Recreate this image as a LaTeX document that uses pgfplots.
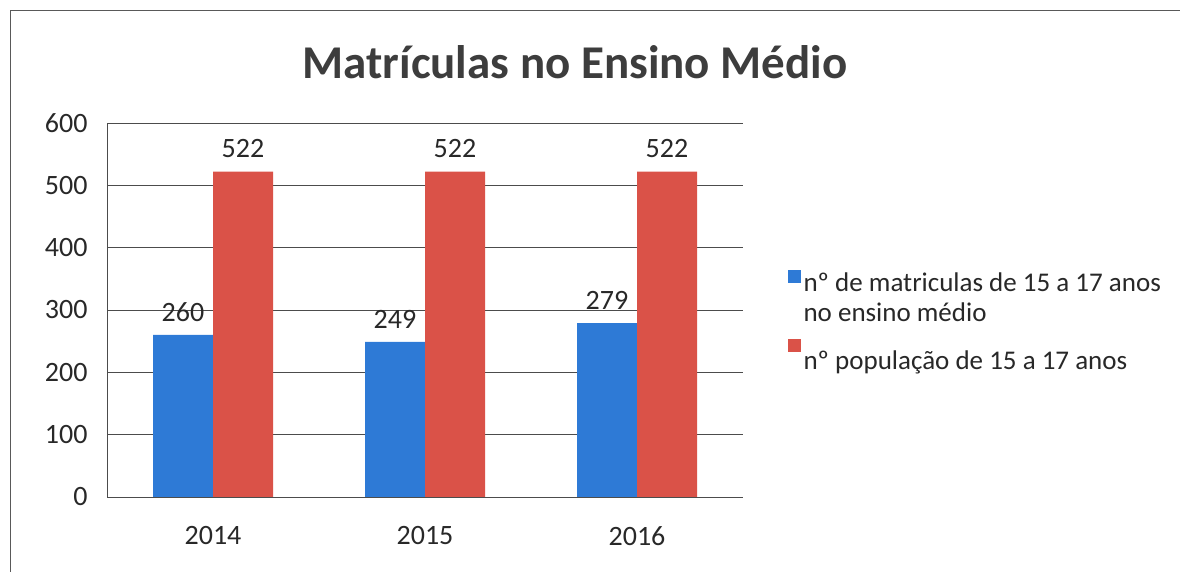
\documentclass[border=0pt]{standalone}
\usepackage{pgfplots}
\pgfplotsset{compat=1.18}
\usepackage{fontspec}
\setmainfont{Carlito}
\definecolor{barblue}{RGB}{46,122,214}
\definecolor{barred}{RGB}{218,82,72}
\definecolor{txt}{RGB}{40,40,40}
\begin{document}
\begin{tikzpicture}[x=1pt,y=1pt]
\path[use as bounding box] (0,0) rectangle (1180,572);
\draw[gray!70!black, line width=1pt] (10,0) -- (10,561) -- (1180,561);
\node[font=\fontsize{47}{52}\selectfont\bfseries, text=txt!90] at (575,510) {Matrículas no Ensino Médio};
\begin{axis}[
  at={(107pt,75pt)}, anchor=south west,
  scale only axis, width=636pt, height=374pt,
  ybar=0pt, bar width=60pt,
  xmin=-0.5, xmax=2.5, ymin=0, ymax=600,
  xtick={0,1,2}, xticklabels={2014,2015,2016},
  ytick={0,100,...,600},
  axis lines=left, axis line style={-, gray!60!black},
  ymajorgrids, grid style={gray!60!black, line width=0.8pt},
  major tick length=0pt,
  tick label style={font=\fontsize{28}{32}\selectfont, text=txt},
  yticklabel style={xshift=-16pt},
  xticklabel style={yshift=-26pt},
  /pgf/number format/assume math mode=true,
  nodes near coords,
  nodes near coords style={font=\fontsize{28}{32}\selectfont, text=txt, yshift=10pt},
  legend style={draw=none, at={(1.065,0.614)}, anchor=north west,
    font=\fontsize{27}{30}\selectfont, text=txt, row sep=8pt,
    nodes={inner sep=1pt}},
  legend cell align=left,
  legend image code/.code={\fill[#1] (0pt,0pt) rectangle (13pt,13pt);},
]
\addplot[fill=barblue, draw=none] coordinates {(0,260) (1,249) (2,279)};
\addlegendentry{\hspace{2pt}nº de matriculas de 15 a 17 anos}
\addlegendimage{empty legend}
\addlegendentry{\hspace{2pt}no ensino médio}
\addplot[fill=barred, draw=none] coordinates {(0,522) (1,522) (2,522)};
\addlegendentry{\rule{0pt}{37pt}\hspace{2pt}nº população de 15 a 17 anos}
\end{axis}
\end{tikzpicture}
\end{document}
